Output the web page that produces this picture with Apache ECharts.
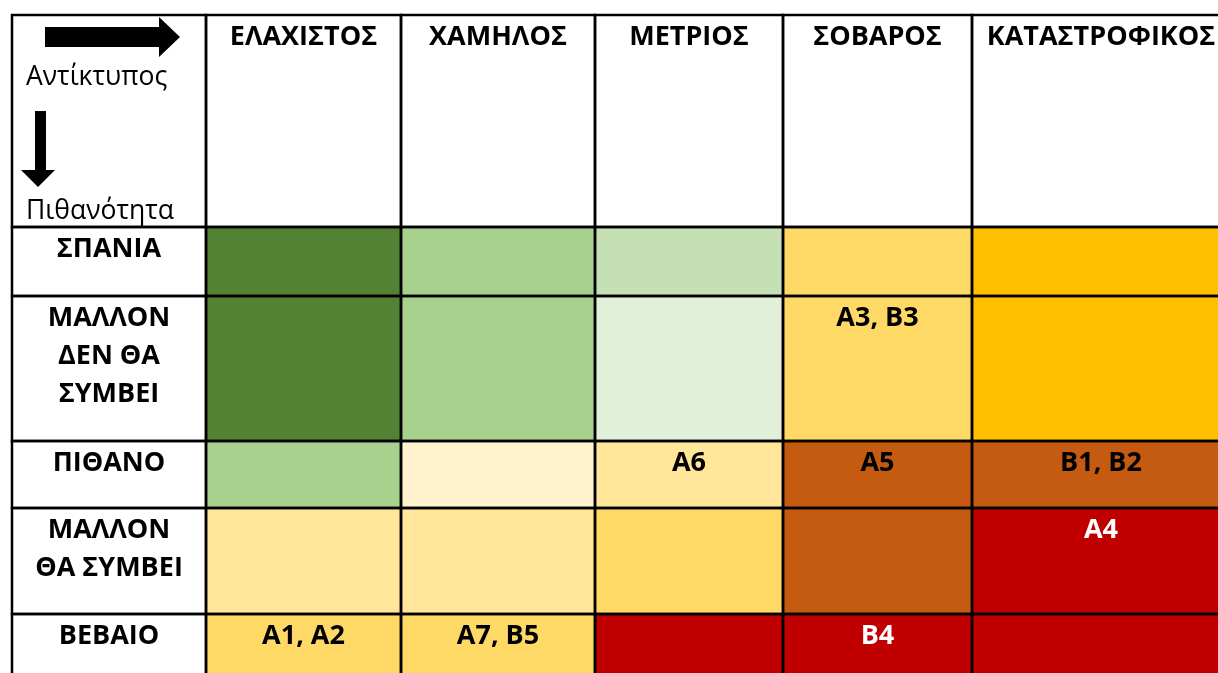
<!DOCTYPE html>
<html>
<head>
<meta charset="utf-8">
<script src="https://cdn.jsdelivr.net/npm/echarts@6/dist/echarts.min.js"></script>
<style>
  html, body { margin: 0; padding: 0; background: #ffffff; }
  #chart { width: 1218px; height: 673px; }
</style>
</head>
<body>
<div id="chart"></div>
<script>
// ---- data ----
const impactLevels = ['ΕΛΑΧΙΣΤΟΣ', 'ΧΑΜΗΛΟΣ', 'ΜΕΤΡΙΟΣ', 'ΣΟΒΑΡΟΣ', 'ΚΑΤΑΣΤΡΟΦΙΚΟΣ'];
const likelihoodLevels = ['ΣΠΑΝΙΑ', 'ΜΑΛΛΟΝ\nΔΕΝ ΘΑ\nΣΥΜΒΕΙ', 'ΠΙΘΑΝΟ', 'ΜΑΛΛΟΝ\nΘΑ ΣΥΜΒΕΙ', 'ΒΕΒΑΙΟ'];
const impactAxisTitle = 'Αντίκτυπος';
const likelihoodAxisTitle = 'Πιθανότητα';
// shade index per cell: rows = likelihood, columns = impact
const riskShade = [
  [0, 1, 2, 6, 7],
  [0, 1, 3, 6, 7],
  [1, 4, 5, 8, 8],
  [5, 5, 6, 8, 9],
  [6, 6, 9, 9, 9]
];
const riskCodes = ['A3, B3', 'A6', 'A5', 'B1, B2', 'A4', 'A1, A2', 'A7, B5', 'B4'];
const riskRow   = [1, 2, 2, 2, 3, 4, 4, 4];
const riskCol   = [3, 2, 3, 4, 4, 0, 1, 3];

// ---- layout & style ----
const shadePalette = ['#548235', '#A9D18E', '#C5E0B4', '#E2F0D9', '#FFF2CC',
                      '#FFE699', '#FFD966', '#FFC000', '#C55A11', '#C00000'];
const darkShades = [9];
const colWidths = [194, 195, 194, 188, 189, 258];
const rowHeights = [212, 69, 145, 67, 106, 67];
const FONT_BOLD = 'bold 27px "Open Sans", sans-serif';
const FONT_REG = '26.5px "Open Sans", sans-serif';
const LINE_H = 38;

const cumW = [0]; colWidths.forEach(w => cumW.push(cumW[cumW.length - 1] + w));
const cumH = [0]; rowHeights.forEach(h => cumH.push(cumH[cumH.length - 1] + h));
const totalW = cumW[cumW.length - 1];
const totalH = cumH[cumH.length - 1];

function cellLabel(r, c) {
  if (r === 0 && c === 0) return null;
  if (r === 0) return { text: impactLevels[c - 1], color: '#000' };
  if (c === 0) return { text: likelihoodLevels[r - 1], color: '#000' };
  for (let i = 0; i < riskCodes.length; i++) {
    if (riskRow[i] === r - 1 && riskCol[i] === c - 1) {
      const shade = riskShade[r - 1][c - 1];
      return { text: riskCodes[i], color: darkShades.indexOf(shade) >= 0 ? '#FFFFFF' : '#000000' };
    }
  }
  return null;
}

const cells = [];
for (let r = 0; r < rowHeights.length; r++) {
  for (let c = 0; c < colWidths.length; c++) {
    cells.push([c, r]);
  }
}

function renderItem(params, api) {
  const c = api.value(0), r = api.value(1);
  const p0 = api.coord([cumW[c], cumH[r]]);
  const p1 = api.coord([cumW[c + 1], cumH[r + 1]]);
  const x = p0[0], y = p0[1], w = p1[0] - p0[0], h = p1[1] - p0[1];
  let fill = '#FFFFFF';
  if (r > 0 && c > 0) fill = shadePalette[riskShade[r - 1][c - 1]];
  const children = [
    { type: 'rect', shape: { x, y, width: w, height: h }, style: { fill: fill }, z2: 1 },
    { type: 'rect', shape: { x, y, width: w, height: h }, style: { fill: null, stroke: '#000', lineWidth: 2.5 }, z2: 10 }
  ];
  const lab = cellLabel(r, c);
  if (lab) {
    children.push({
      type: 'text', z2: 20,
      style: { text: lab.text, x: x + w / 2, y: y + 3, align: 'center', verticalAlign: 'top',
               font: FONT_BOLD, fill: lab.color, lineHeight: LINE_H }
    });
  }
  if (r === 0 && c === 0) {
    // decorative arrows & axis titles in the corner cell
    children.push({
      type: 'polygon', z2: 20,
      shape: { points: [[x + 33, y + 12], [x + 147, y + 12], [x + 147, y + 2], [x + 168, y + 22],
                        [x + 147, y + 42], [x + 147, y + 32], [x + 33, y + 32]] },
      style: { fill: '#000' }
    });
    children.push({
      type: 'polygon', z2: 20,
      shape: { points: [[x + 23, y + 96], [x + 34, y + 96], [x + 34, y + 155], [x + 43, y + 155],
                        [x + 26, y + 172], [x + 9, y + 155], [x + 23, y + 155]] },
      style: { fill: '#000' }
    });
    children.push({
      type: 'text', z2: 20,
      style: { text: impactAxisTitle, x: x + 14, y: y + 62, align: 'left', verticalAlign: 'middle',
               font: FONT_REG, fill: '#000' }
    });
    children.push({
      type: 'text', z2: 20,
      style: { text: likelihoodAxisTitle, x: x + 14, y: y + 196, align: 'left', verticalAlign: 'middle',
               font: FONT_REG, fill: '#000' }
    });
  }
  return { type: 'group', children };
}

const chart = echarts.init(document.getElementById('chart'), null, { renderer: 'canvas' });
chart.setOption({
  animation: false,
  backgroundColor: '#FFFFFF',
  grid: { left: 12, top: 15, width: totalW, height: totalH, containLabel: false, outerBoundsMode: 'none' },
  xAxis: { type: 'value', min: 0, max: totalW, show: false },
  yAxis: { type: 'value', min: 0, max: totalH, inverse: true, show: false },
  series: [{
    type: 'custom',
    coordinateSystem: 'cartesian2d',
    clip: false,
    silent: true,
    renderItem: renderItem,
    data: cells
  }]
});
</script>
</body>
</html>
